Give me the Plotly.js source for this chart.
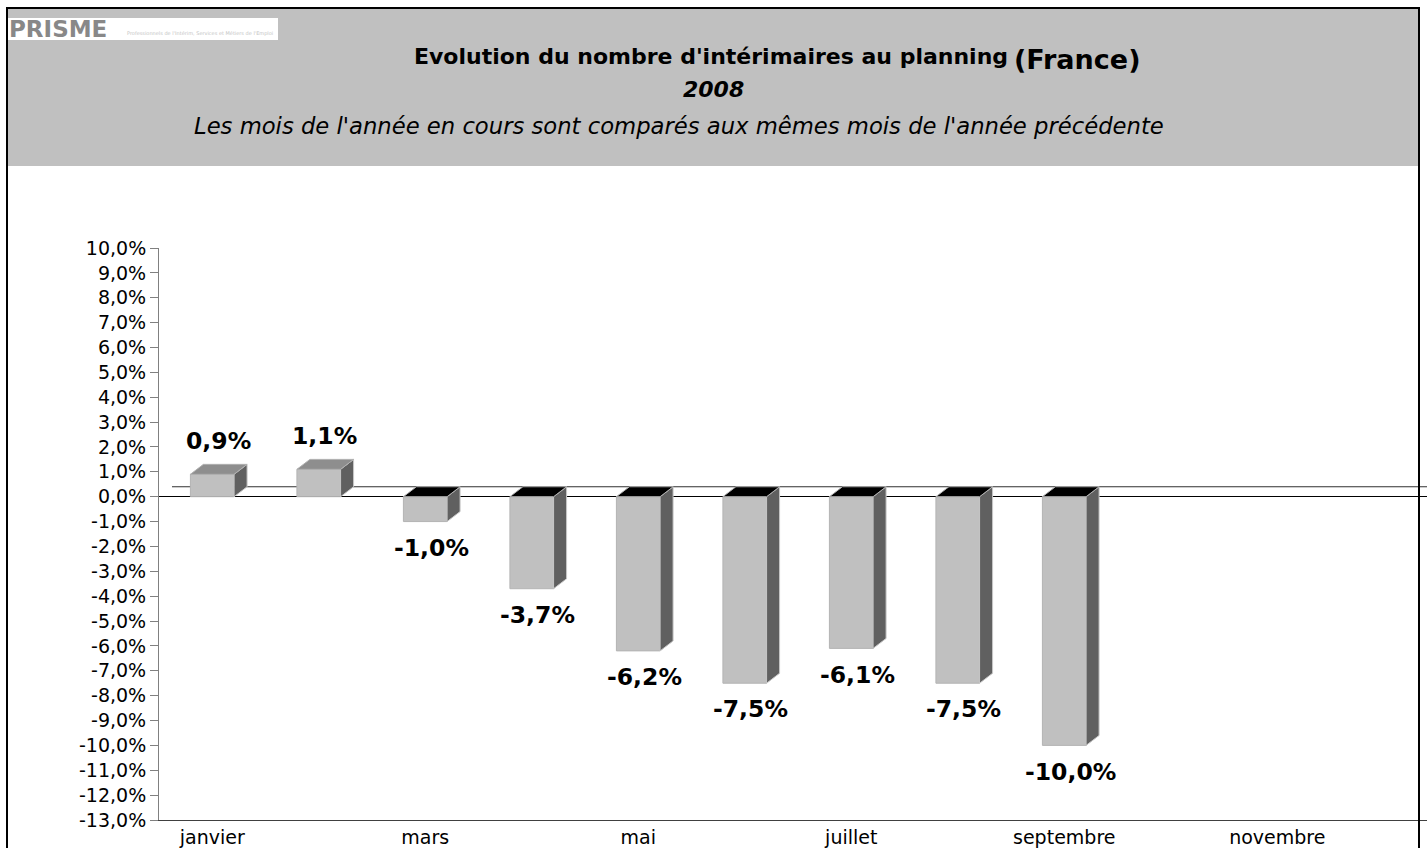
<!DOCTYPE html>
<html>
<head>
<meta charset="utf-8">
<script src="https://cdn.plot.ly/plotly-3.0.1.min.js"></script>
<style>html,body{margin:0;padding:0;background:#fff;}#chart{width:1427px;height:848px;}</style>
</head>
<body>
<div id="chart"></div>
<script>
const months = ['janvier','février','mars','avril','mai','juin','juillet','août','septembre','octobre','novembre','décembre'];
const values = [0.9, 1.1, -1.0, -3.7, -6.2, -7.5, -6.1, -7.5, -10.0];
const tickMonthIdx = [0, 2, 4, 6, 8, 10];
const yTickVals = [10, 9, 8, 7, 6, 5, 4, 3, 2, 1, 0, -1, -2, -3, -4, -5, -6, -7, -8, -9, -10, -11, -12, -13];
const yTickText = ['10,0%','9,0%','8,0%','7,0%','6,0%','5,0%','4,0%','3,0%','2,0%','1,0%','0,0%',
  '-1,0%','-2,0%','-3,0%','-4,0%','-5,0%','-6,0%','-7,0%','-8,0%','-9,0%','-10,0%','-11,0%','-12,0%','-13,0%'];

const FONT = 'DejaVu Sans, Verdana, sans-serif';
const W = 1427, H = 848, ML = 159, MR = 0, MT = 248, MB = 28;
const PW = W - ML - MR, PH = H - MT - MB;
const px = p => (p - ML) / PW;          // pixel -> paper x
const py = p => (H - MB - p) / PH;      // pixel -> paper y

const barW = 0.41, dx = 0.122, dy = 0.40;
const xi = values.map((v, i) => i);
const fmt = v => v.toFixed(1).replace('.', ',') + '%';

const traces = [];
// front faces
traces.push({type:'bar', x: xi, y: values, width: barW,
  marker:{color:'#c0c0c0', line:{color:'#b4b4b4', width:1}}, hoverinfo:'skip', showlegend:false});
// side + top faces
values.forEach((v, i) => {
  const xl = i - barW/2, xr = i + barW/2, top = Math.max(v, 0);
  traces.push({type:'scatter', mode:'lines', fill:'toself', fillcolor:'#606060',
    x:[xr, xr+dx, xr+dx, xr, xr], y:[0, dy, v+dy, v, 0],
    line:{color:'#c8c8c8', width:1}, hoverinfo:'skip', showlegend:false});
  traces.push({type:'scatter', mode:'lines', fill:'toself', fillcolor: v >= 0 ? '#8e8e8e' : '#000000',
    x:[xl, xl+dx, xr+dx, xr, xl], y:[top, top+dy, top+dy, top, top],
    line:{color:'#b0b0b0', width:1}, hoverinfo:'skip', showlegend:false});
});

const annotations = values.map((v, i) => ({
  xref:'x', yref:'y', x: i + 0.055, y: v >= 0 ? v + 1.34 : v - 1.05,
  text: '<b>' + fmt(v) + '</b>', showarrow:false,
  font:{family:FONT, size:23.5, color:'#000'}, xanchor:'center', yanchor:'middle'
}));
annotations.push(
  {xref:'paper', yref:'paper', x: px(412), y: py(57), xanchor:'left', yanchor:'middle', showarrow:false,
   text:"<b>Evolution du nombre d'intérimaires au planning</b>", font:{family:FONT, size:22, color:'#000'}},
  {xref:'paper', yref:'paper', x: px(1012), y: py(60), xanchor:'left', yanchor:'middle', showarrow:false,
   text:"<b>(France)</b>", font:{family:FONT, size:27, color:'#000'}},
  {xref:'paper', yref:'paper', x: px(713), y: py(90), xanchor:'center', yanchor:'middle', showarrow:false,
   text:"<b><i>2008</i></b>", font:{family:FONT, size:22, color:'#000'}},
  {xref:'paper', yref:'paper', x: px(679), y: py(126), xanchor:'center', yanchor:'middle', showarrow:false,
   text:"<i>Les mois de l'année en cours sont comparés aux mêmes mois de l'année précédente</i>", font:{family:FONT, size:22.7, color:'#000'}},
  {xref:'paper', yref:'paper', x: px(7), y: py(29), xanchor:'left', yanchor:'middle', showarrow:false,
   text:"<b>PRISME</b>", font:{family:FONT, size:23, color:'#888888'}},
  {xref:'paper', yref:'paper', x: px(125), y: py(34), xanchor:'left', yanchor:'middle', showarrow:false,
   text:"Professionnels de l'Intérim, Services et Métiers de l'Emploi", font:{family:FONT, size:5, color:'#c4c4c4'}}
);

const shapes = [
  {type:'rect', xref:'paper', yref:'paper', x0:px(7), x1:px(1419), y0:py(166), y1:py(8),
   fillcolor:'#c0c0c0', line:{width:0}, layer:'below'},
  {type:'rect', xref:'paper', yref:'paper', x0:px(7), x1:px(278), y0:py(40), y1:py(18),
   fillcolor:'#ffffff', line:{width:0}, layer:'below'},
  {type:'rect', xref:'paper', yref:'paper', x0:px(7), x1:px(1419), y0:py(870), y1:py(8),
   fillcolor:'rgba(0,0,0,0)', line:{color:'#000', width:2}},
  {type:'line', xref:'x', yref:'y', x0:-0.5 + dx, x1:11.5, y0:dy, y1:dy,
   line:{color:'#303030', width:1}, layer:'below'}
];

const layout = {
  width:W, height:H, margin:{l:ML, r:MR, t:MT, b:MB, pad:0},
  paper_bgcolor:'#ffffff', plot_bgcolor:'#ffffff', separators:', ',
  showlegend:false, font:{family:FONT, size:19, color:'#000'},
  xaxis:{type:'linear', range:[-0.5, -0.5 + PW/106.5], tickmode:'array',
    tickvals: tickMonthIdx, ticktext: tickMonthIdx.map(i => months[i]),
    ticks:'', showgrid:false, zeroline:false, showline:true, linecolor:'#404040', linewidth:1,
    tickfont:{family:FONT, size:19, color:'#000'}, fixedrange:true},
  yaxis:{range:[-13, 10], tickmode:'array', tickvals: yTickVals, ticktext: yTickText,
    ticks:'outside', ticklen:8, tickcolor:'#808080', showgrid:false,
    zeroline:true, zerolinecolor:'#000', zerolinewidth:1,
    showline:true, linecolor:'#808080', linewidth:1,
    tickfont:{family:FONT, size:19, color:'#000'}, fixedrange:true},
  annotations, shapes, bargap:0
};

Plotly.newPlot('chart', traces, layout, {displayModeBar:false, staticPlot:true});
</script>
</body>
</html>
